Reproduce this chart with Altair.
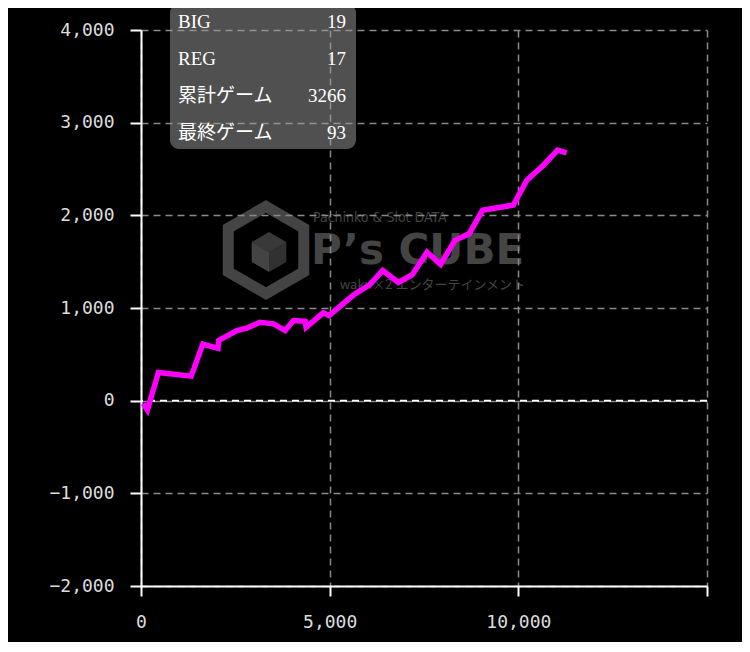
import altair as alt
import pandas as pd

# ---- data ----
games = [60, 170, 460, 1330, 1640, 2040, 2060, 2540, 2800, 3150, 3510, 3820, 4040,
         4350, 4375, 4830, 4985, 5630, 6070, 6405, 6820, 7185, 7580, 7940, 8320,
         8695, 9050, 9870, 10225, 10665, 11040, 11280]
diff = [-30, -100, 305, 265, 610, 565, 650, 757, 782, 846, 829, 757, 865,
        857, 792, 948, 919, 1140, 1254, 1405, 1276, 1357, 1603, 1470, 1730,
        1800, 2054, 2111, 2378, 2541, 2703, 2674]

stat_labels = ["BIG", "REG", "累計ゲーム", "最終ゲーム"]
stat_values = ["19", "17", "3266", "93"]

x_ticks = [0, 5000, 10000, 15000]
y_ticks = [-2000, -1000, 0, 1000, 2000, 3000, 4000]

df = pd.DataFrame({"g": games, "d": diff, "i": list(range(len(games)))})
stats = pd.DataFrame({"label": stat_labels, "value": stat_values,
                      "row": list(range(len(stat_labels)))})

W, H = 566, 556
MONO = "DejaVu Sans Mono"
SERIF = "Liberation Serif, Noto Sans CJK JP"

xscale = alt.Scale(domain=[0, 15000], nice=False, zero=False)
yscale = alt.Scale(domain=[-2000, 4000], nice=False, zero=False)

xaxis = alt.Axis(values=x_ticks, title=None, labelFlush=False,
                 labelExpr="datum.value == 15000 ? '' : format(datum.value, ',d')",
                 grid=True, gridColor="#8a8a8a", gridDash=[7, 5], gridWidth=1.5,
                 domainColor="#ffffff", domainWidth=2, tickColor="#ffffff",
                 tickWidth=2, tickSize=10, labelFont=MONO, labelFontSize=18,
                 labelColor="#dddddd", labelPadding=17)
yaxis = alt.Axis(values=y_ticks, title=None, format=",d", labelFlush=False,
                 grid=True, gridColor="#8a8a8a", gridDash=[7, 5], gridWidth=1.5,
                 domainColor="#ffffff", domainWidth=2, tickColor="#ffffff",
                 tickWidth=2, tickSize=11, labelFont=MONO, labelFontSize=18,
                 labelColor="#dddddd", labelPadding=16)

# ---- watermark (decoration) ----
anchor = pd.DataFrame({"k": [0]})
wm_color = "#888888"
wm_op = 0.5
hexagon = "M0,-1L0.866,-0.5L0.866,0.5L0,1L-0.866,0.5L-0.866,-0.5Z"
wm_hex = alt.Chart(anchor).mark_point(shape=hexagon, filled=False, stroke=wm_color,
                                      strokeWidth=11, opacity=wm_op, size=7600).encode(
    x=alt.value(125), y=alt.value(220))
wm_cube_top = alt.Chart(anchor).mark_point(
    shape="M0,-1L0.866,-0.5L0,0L-0.866,-0.5Z", filled=True, fill=wm_color,
    opacity=0.42, size=1600, strokeWidth=0).encode(x=alt.value(128), y=alt.value(222))
wm_cube_left = alt.Chart(anchor).mark_point(
    shape="M-0.866,-0.5L0,0L0,1L-0.866,0.5Z", filled=True, fill=wm_color,
    opacity=0.5, size=1600, strokeWidth=0).encode(x=alt.value(128), y=alt.value(222))
wm_cube_right = alt.Chart(anchor).mark_point(
    shape="M0.866,-0.5L0,0L0,1L0.866,0.5Z", filled=True, fill=wm_color,
    opacity=0.36, size=1600, strokeWidth=0).encode(x=alt.value(128), y=alt.value(222))
wm_title = alt.Chart(anchor).mark_text(
    text="P’s CUBE", font="DejaVu Sans", fontWeight="bold", fontSize=42,
    align="left", baseline="middle", color=wm_color, opacity=wm_op).encode(
    x=alt.value(170), y=alt.value(221))
wm_top = alt.Chart(anchor).mark_text(
    text="Pachinko & Slot DATA", font="DejaVu Sans Condensed", fontSize=14,
    align="left", baseline="middle", color=wm_color, opacity=wm_op).encode(
    x=alt.value(172), y=alt.value(188))
wm_bottom = alt.Chart(anchor).mark_text(
    text="waku×2 エンターテインメント", font="Noto Sans CJK JP", fontSize=13,
    align="right", baseline="middle", color=wm_color, opacity=wm_op).encode(
    x=alt.value(384), y=alt.value(255))

# ---- data marks ----
zero_rule = alt.Chart(anchor).mark_rule(color="#ffffff", strokeDash=[7, 5],
                                        strokeWidth=2).encode(
    y=alt.Y(datum=0, scale=yscale, axis=None))

line = alt.Chart(df).mark_line(color="#ff00ff", strokeWidth=5.5,
                               strokeJoin="miter").encode(
    x=alt.X("g:Q", scale=xscale, axis=xaxis),
    y=alt.Y("d:Q", scale=yscale, axis=yaxis),
    order="i:Q")

# ---- stats box (decoration) ----
box = alt.Chart(anchor).mark_rect(fill="#9a9a9a", opacity=0.52, cornerRadius=9).encode(
    x=alt.value(29), x2=alt.value(215), y=alt.value(-26), y2=alt.value(119))

base_stats = alt.Chart(stats).transform_calculate(py="-8 + datum.row * 37")
ypix = alt.Y("py:Q", scale=None, axis=None)

lab = base_stats.mark_text(
    font=SERIF, fontSize=19, align="left", baseline="middle", color="#ffffff").encode(
    x=alt.value(37), y=ypix, text="label:N")
val = base_stats.mark_text(
    font=SERIF, fontSize=19, align="right", baseline="middle", color="#ffffff").encode(
    x=alt.value(205), y=ypix, text="value:N")

chart = alt.layer(
    wm_hex, wm_cube_top, wm_cube_left, wm_cube_right, wm_title, wm_top, wm_bottom,
    zero_rule, line,
    box, lab, val,
).resolve_scale(y="independent").properties(
    width=W, height=H,
    autosize=alt.AutoSizeParams(type="none"),
    padding={"left": 133, "top": 22, "right": 35, "bottom": 56},
    background="#000000",
).configure_view(stroke=None)

chart.save("out.html", embed_options={"renderer": "svg", "actions": False})
